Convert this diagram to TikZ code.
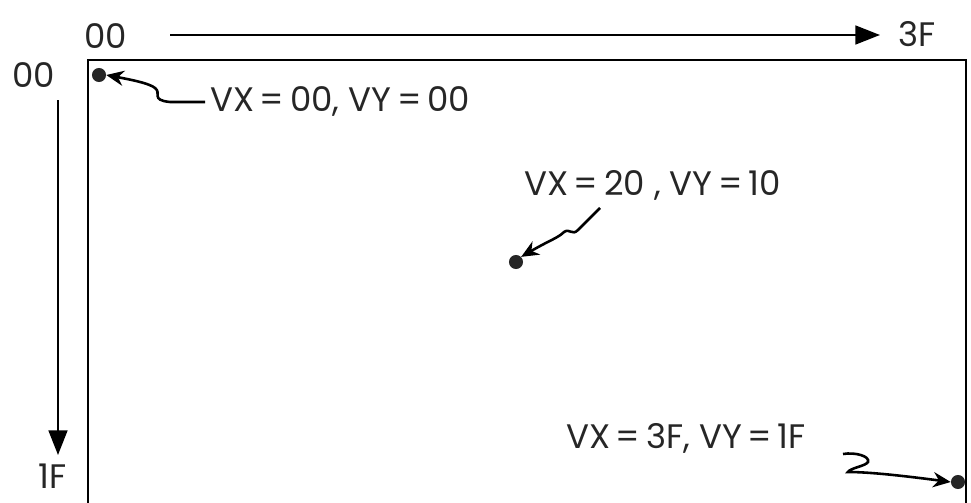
\documentclass[tikz,border=0pt]{standalone}
\usepackage{fontspec}
\setmainfont{Poppins}
\usetikzlibrary{arrows.meta}
\begin{document}
\begin{tikzpicture}[x=0.03cm,y=-0.03cm,
  lbl/.style={font=\fontsize{29}{32}\selectfont, inner sep=0pt, text=black!85},
  axis/.style={line width=2pt, -{Triangle[length=21pt,width=16pt]}},
  squig/.style={line width=2.2pt, -{Stealth[length=15pt,width=13pt]}},
  dotst/.style={circle, fill=black!85, inner sep=0pt, minimum size=12pt},
  frame/.style={line width=2.2pt}]
\useasboundingbox (0,0) rectangle (971,503);
% frame
\draw[frame] (88,503) -- (88,60) -- (966,60) -- (966,503);
% axis labels
\node[lbl, anchor=west] (tx0) at (84,36) {00};
\node[lbl, anchor=west] (txF) at (898,34) {3F};
\node[lbl, anchor=west] (ly0) at (12,75) {00};
\node[lbl, anchor=west] (lyF) at (38,476) {1F};
\coordinate (ta) at (170,35);
\coordinate (tb) at (880,35);
\coordinate (la) at (58,100);
\coordinate (lb) at (58,455);
\draw[axis] (ta) -- (tb);
\draw[axis] (la) -- (lb);
% dots
\node[dotst] (d1) at (99,75) {};
\node[dotst] (d2) at (516,262) {};
\node[dotst] (d3) at (958,482) {};
% labels
\node[lbl, anchor=west] (t1) at (210,101) {VX\,=\,00, VY\,=\,00};
\node[lbl, anchor=west] (t2) at (524,185) {VX\,=\,20 , VY\,=\,10};
\node[lbl, anchor=west] (t3) at (566,438) {VX\,=\,3F, VY\,=\,1F};
% squiggle arrows
\coordinate (s1) at (205,102);
\draw[squig] (s1) -- (170,102) .. controls (150,100) and (162,93) .. (155,88) .. controls (150,84) and (138,81) .. (d1.east);
\coordinate (s2) at (600,208);
\draw[squig] (s2) -- (578,230) .. controls (572,236) and (570,228) .. (564,232) .. controls (558,238) and (550,240) .. (d2.north east);
\coordinate (s3) at (843,454);
\draw[squig] (s3) .. controls (855,452) and (870,456) .. (868,462) .. controls (866,466) and (850,468) .. (848,472) .. controls (870,472) and (905,476) .. (d3.west);
\end{tikzpicture}
\end{document}
